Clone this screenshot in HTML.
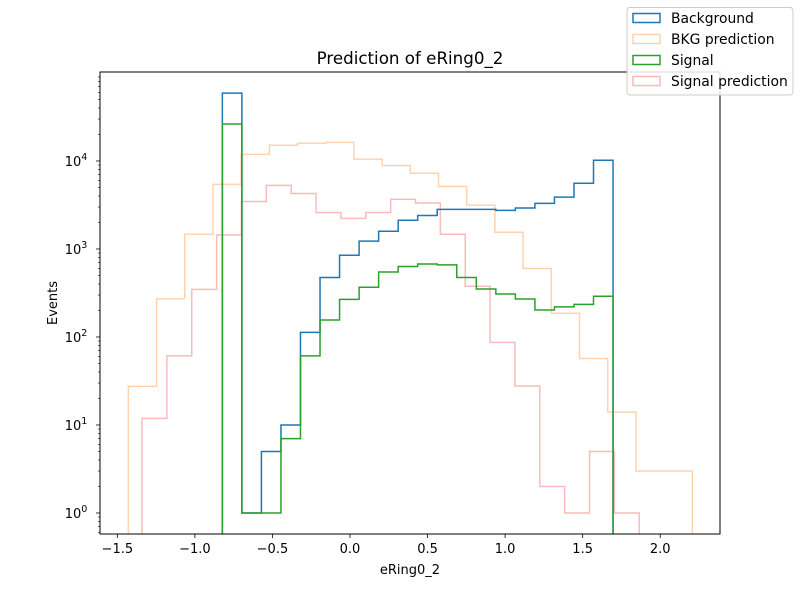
<!DOCTYPE html>
<html><head><meta charset="utf-8"><style>
body{margin:0;background:#fff;}
svg{display:block;font-family:"DejaVu Sans","Liberation Sans",sans-serif;}
</style></head><body>
<svg id="chart" width="800" height="600" viewBox="0 0 800 600"></svg>
<script>
const bgRange = [-0.823, 1.696];
const bkgPredRange = [-1.429, 2.207];
const sigPredRange = [-1.341, 1.865];
const background = [59000,1,5,10,113,475,850,1230,1590,2120,2400,2820,2820,2820,2750,2920,3300,3890,5580,10200];
const signal = [26300,1,1,7,61,156,268,367,547,633,675,660,475,351,308,270,203,220,235,290];
const bkgPrediction = [27.5,272,1470,5430,11900,15100,15900,16300,10500,8900,7250,5130,3150,1550,600,186,57,14,3,3];
const signalPrediction = [11.9,61,348,1440,3470,5290,4270,2600,2230,2600,3670,3330,1470,377,87,27.7,2,1,5,1];
const xTicks = [-1.5,-1.0,-0.5,0.0,0.5,1.0,1.5,2.0];
const xTickLabels = ["−1.5","−1.0","−0.5","0.0","0.5","1.0","1.5","2.0"];
const yTicks = [0,1,2,3,4];

const NS="http://www.w3.org/2000/svg";
const svg=document.getElementById('chart');
const L=100,R=720,T=72,B=534;
const xs=v=>350+155.1*v;
const ys=v=>513-88*Math.log10(v);
function el(tag,attrs,parent){const e=document.createElementNS(NS,tag);for(const k in attrs)e.setAttribute(k,attrs[k]);(parent||svg).appendChild(e);return e;}

const defs=el('defs',{});
const cp=el('clipPath',{id:'clip'},defs);
el('rect',{x:L,y:T,width:R-L,height:B-T},cp);

const plot=el('g',{'clip-path':'url(#clip)'});



function hist(vals,range,color,name){
  const n=vals.length,w=(range[1]-range[0])/n;
  let d='M'+xs(range[0]).toFixed(2)+','+(B+5);
  for(let i=0;i<n;i++){
    const x0=xs(range[0]+i*w),x1=xs(range[0]+(i+1)*w),y=ys(vals[i]);
    d+=' L'+x0.toFixed(2)+','+y.toFixed(2)+' L'+x1.toFixed(2)+','+y.toFixed(2);
  }
  d+=' L'+xs(range[1]).toFixed(2)+','+(B+5);
  const p=el('path',{d:d,fill:'none',stroke:color,'stroke-width':1.5,'stroke-linejoin':'miter'},plot);
  
  
}
hist(bkgPrediction,bkgPredRange,'#ffd3b0','bkg-prediction-histogram');
hist(signalPrediction,sigPredRange,'#f7bcbc','signal-prediction-histogram');
hist(background,bgRange,'#1f77b4','background-histogram');
hist(signal,bgRange,'#2ca02c','signal-histogram');

const frame=el('rect',{x:L,y:T,width:R-L,height:B-T,fill:'none',stroke:'#000','stroke-width':1});



xTicks.forEach((t,i)=>{
  const x=xs(t);
  el('line',{x1:x,x2:x,y1:B,y2:B+4,stroke:'#000','stroke-width':0.8});
  const tx=el('text',{x:x,y:B+19,'font-size':13,'text-anchor':'middle',fill:'#000'});
  tx.textContent=xTickLabels[i];
  
  
});
yTicks.forEach(p=>{
  const y=ys(Math.pow(10,p));
  el('line',{x1:L-4,x2:L,y1:y,y2:y,stroke:'#000','stroke-width':0.8});
  const tx=el('text',{x:L-24,y:y+5,'font-size':13,'text-anchor':'middle',fill:'#000'});
  tx.textContent='10';
  const sp=el('tspan',{dy:-6,'font-size':9.5},tx);sp.textContent=String(p);
  
  
});
for(let p=-1;p<=5;p++){for(let m=2;m<=9;m++){const v=m*Math.pow(10,p);const y=ys(v);if(y<T||y>B)continue;el('line',{x1:L-2,x2:L,y1:y,y2:y,stroke:'#000','stroke-width':0.6});}}

let t=el('text',{x:410,y:64,'font-size':16.7,'text-anchor':'middle'});t.textContent='Prediction of eRing0_2';

t=el('text',{x:410,y:574,'font-size':13,'text-anchor':'middle'});t.textContent='eRing0_2';

t=el('text',{x:57,y:303,'font-size':13,'text-anchor':'middle',transform:'rotate(-90 57 303)'});t.textContent='Events';


const lg=el('g',{});

el('rect',{x:627,y:7.5,width:166,height:87.5,rx:3,fill:'#fff','fill-opacity':0.85,stroke:'#ccc','stroke-width':1},lg);
const entries=[['Background','#1f77b4'],['BKG prediction','#ffd3b0'],['Signal','#2ca02c'],['Signal prediction','#f7bcbc']];
entries.forEach((e,i)=>{
  const y=18+i*21;
  const g=el('g',{},lg);
  
  el('rect',{x:633,y:y-4.5,width:27,height:9,fill:'none',stroke:e[1],'stroke-width':1.5},g);
  const tx=el('text',{x:671,y:y+5,'font-size':13.9},g);tx.textContent=e[0];
});
</script>
</body></html>
